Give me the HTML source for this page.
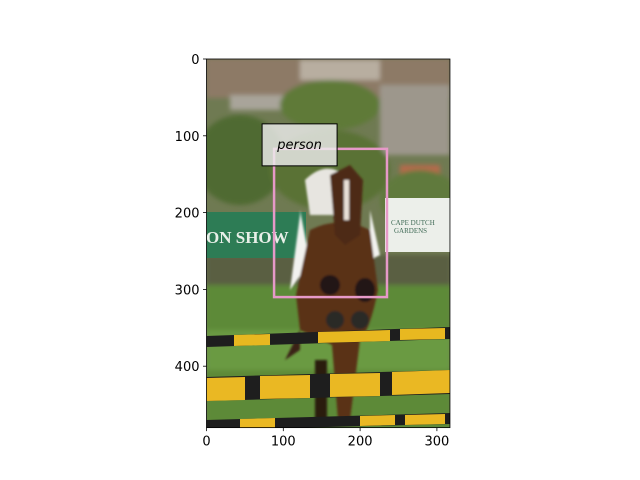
<!DOCTYPE html>
<html><head><meta charset="utf-8"><style>
html,body{margin:0;padding:0;background:#fff}
svg{display:block}
text{font-family:"DejaVu Sans","Liberation Sans",sans-serif;font-size:13px;fill:#000}
</style></head><body>
<svg id="chart" width="640" height="480" viewBox="0 0 640 480" xmlns="http://www.w3.org/2000/svg">
<defs>
<clipPath id="imgclip"><rect x="206.5" y="59" width="243.5" height="368.6"/></clipPath>
<filter id="blur"><feGaussianBlur stdDeviation="2.5"/></filter>
<filter id="blur1"><feGaussianBlur stdDeviation="1"/></filter>
</defs>
<g id="photo" clip-path="url(#imgclip)">
  <rect x="206" y="58" width="245" height="371" fill="#6f7a52"/>
  <g filter="url(#blur)">
    <rect x="206" y="58" width="245" height="40" fill="#8d7a66"/>
    <rect x="300" y="60" width="80" height="20" fill="#b8aea0"/>
    <rect x="230" y="95" width="60" height="15" fill="#a9a49a"/>
    <rect x="380" y="85" width="70" height="70" fill="#9d978c"/>
    <rect x="400" y="165" width="40" height="20" fill="#b66a4c"/>
    <ellipse cx="330" cy="105" rx="50" ry="25" fill="#5f7a38"/>
    <ellipse cx="240" cy="160" rx="45" ry="45" fill="#4f6a30"/>
    <ellipse cx="330" cy="170" rx="60" ry="40" fill="#5a7236"/>
    <ellipse cx="420" cy="200" rx="40" ry="30" fill="#607a3e"/>
    <rect x="206" y="255" width="245" height="30" fill="#5a5e42"/>
    <rect x="206" y="285" width="245" height="145" fill="#5d8a38"/>
    <rect x="206" y="330" width="245" height="40" fill="#6b9a42"/>
  </g>
  <g id="banner-left">
    <rect x="206" y="212" width="100" height="46" fill="#2d7c55"/>
    <text x="206" y="243" style="font-family:'Liberation Serif',serif;font-size:17px;font-weight:bold;fill:#e8efe8">ON SHOW</text>
  </g>
  <g id="banner-right">
    <rect x="385" y="198" width="65" height="54" fill="#ecefea"/>
    <text x="391" y="225" style="font-family:'Liberation Serif',serif;font-size:7px;fill:#3f6a55">CAPE DUTCH</text>
    <text x="394" y="233" style="font-family:'Liberation Serif',serif;font-size:7px;fill:#3f6a55">GARDENS</text>
  </g>
  <g id="horse" filter="url(#blur1)">
    <path d="M305,180 Q325,160 345,175 L355,200 L340,215 L310,215 Z" fill="#e7e5e0"/>
    <path d="M300,210 L310,262 L290,290 L300,215 Z" fill="#f2f2ef"/>
    <path d="M370,210 L380,255 L370,260 Z" fill="#f2f2ef"/>
    <path d="M310,230 Q340,215 370,230 L378,290 Q370,330 360,340 L350,420 L338,420 L332,345 L300,330 L296,295 Z" fill="#5a3018"/>
    <path d="M330,175 L350,165 L363,180 L360,235 L345,245 L335,235 Z" fill="#4d2a14"/>
    <rect x="344" y="180" width="5" height="40" fill="#e8e0d8"/>
    <path d="M300,330 L285,360 L300,350 Z" fill="#3a2418"/>
    <rect x="315" y="360" width="12" height="60" fill="#2a1a10"/>
    <ellipse cx="330" cy="285" rx="10" ry="10" fill="#241612"/>
    <ellipse cx="365" cy="290" rx="10" ry="12" fill="#241612"/>
    <ellipse cx="360" cy="320" rx="9" ry="9" fill="#2c2a28"/>
    <ellipse cx="335" cy="320" rx="9" ry="9" fill="#2c2a28"/>
  </g>
  <g id="poles">
    <polygon points="206,336 450,327 450,339 206,347" fill="#1e1e1e"/>
    <polygon points="234,335 270,334 270,345 234,346" fill="#e8b820"/>
    <polygon points="318,332 390,330 390,341 318,343" fill="#e8b820"/>
    <polygon points="400,329 445,328 445,339 400,340" fill="#e8b820"/>
    <polygon points="206,377 450,370 450,394 206,401" fill="#1e1e1e"/>
    <polygon points="206,378 245,377 245,400 206,401" fill="#eab823"/>
    <polygon points="260,376 310,375 310,398 260,399" fill="#eab823"/>
    <polygon points="330,374 380,373 380,396 330,397" fill="#eab823"/>
    <polygon points="392,372 450,370 450,393 392,395" fill="#eab823"/>
    <polygon points="206,420 450,413 450,424 206,430" fill="#1e1e1e"/>
    <polygon points="240,419 275,418 275,428 240,429" fill="#eab823"/>
    <polygon points="360,416 395,415 395,425 360,426" fill="#eab823"/>
    <polygon points="405,415 445,414 445,424 405,425" fill="#eab823"/>
  </g>
</g>
<g id="axes"></g>
<g id="boxes"></g>
</svg>
<script>
const xTicks = [0, 100, 200, 300];
const yTicks = [0, 100, 200, 300, 400];
const boxLabels = ["person"];
const boxX = [88];
const boxY = [117];
const boxW = [147];
const boxH = [193];
const imgW = 317, imgH = 480;
const X0 = 206.5, Y0 = 59, S = 0.768;
const sx = v => X0 + v * S;
const sy = v => Y0 + v * S;
const NS = "http://www.w3.org/2000/svg";
function mk(tag, attrs, parent) {
  const e = document.createElementNS(NS, tag);
  for (const k in attrs) e.setAttribute(k, attrs[k]);
  parent.appendChild(e);
  return e;
}
const axes = document.getElementById("axes");
const frame = mk("rect", {x: sx(0), y: sy(0), width: imgW * S, height: imgH * S, fill: "none", stroke: "#000", "stroke-width": 0.8}, axes);


xTicks.forEach(t => {
  const g = mk("g", {}, axes);
  
  
  mk("line", {x1: sx(t), x2: sx(t), y1: sy(imgH), y2: sy(imgH) + 3.5, stroke: "#000", "stroke-width": 0.8}, g);
  const tx = mk("text", {x: sx(t), y: sy(imgH) + 18, "text-anchor": "middle"}, g);
  tx.textContent = t;
});
yTicks.forEach(t => {
  const g = mk("g", {}, axes);
  
  
  mk("line", {x1: sx(0) - 3.5, x2: sx(0), y1: sy(t), y2: sy(t), stroke: "#000", "stroke-width": 0.8}, g);
  const tx = mk("text", {x: sx(0) - 7, y: sy(t) + 5, "text-anchor": "end"}, g);
  tx.textContent = t;
});
const boxes = document.getElementById("boxes");
boxLabels.forEach((lab, i) => {
  const r = mk("rect", {x: sx(boxX[i]), y: sy(boxY[i]), width: boxW[i] * S, height: boxH[i] * S, fill: "none", stroke: "#e699c8", "stroke-width": 2.5}, boxes);
  
  
  const lx = sx(boxX[i]) - 12, ly = sy(boxY[i]) - 25;
  const bg = mk("rect", {x: lx, y: ly, width: 75, height: 42, fill: "rgba(235,235,235,0.82)", stroke: "#000", "stroke-width": 1}, boxes);
  
  
  const t = mk("text", {x: lx + 37.5, y: ly + 25, "text-anchor": "middle", "font-style": "italic", style: "font-size:13px"}, boxes);
  
  
  t.textContent = lab;
});
</script>
</body></html>
